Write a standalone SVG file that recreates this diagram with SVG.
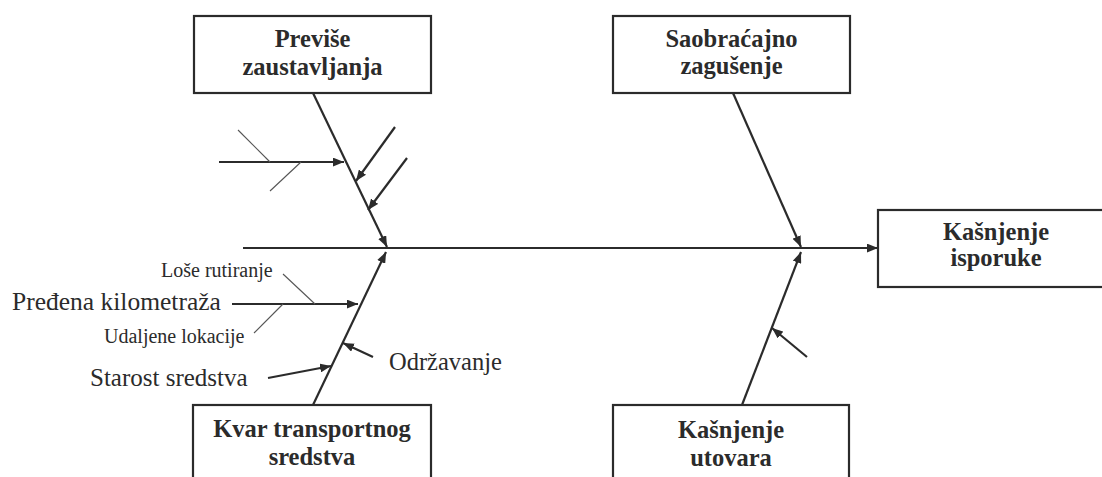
<svg xmlns="http://www.w3.org/2000/svg" width="1102" height="477" viewBox="0 0 1102 477">
  <style>
    .box { fill: #ffffff; stroke: #2b2b2b; stroke-width: 2.2; }
    .bone { stroke: #2b2b2b; stroke-width: 2.2; fill: none; }
    .thin { stroke: #555555; stroke-width: 1.1; fill: none; }
    .title { font-family: "Liberation Serif", "Times New Roman", serif; font-weight: bold; font-size: 24.5px; fill: #2b2b2b; text-anchor: middle; }
    .lbl { font-family: "Liberation Serif", "Times New Roman", serif; fill: #2b2b2b; }
  </style>
  <defs>
    <marker id="arr" viewBox="0 0 10 8" refX="10" refY="4" markerWidth="11" markerHeight="9" markerUnits="userSpaceOnUse" orient="auto">
      <path d="M0,0 L10,4 L0,8 z" fill="#2b2b2b"/>
    </marker>
  </defs>

  <rect width="1102" height="477" fill="#ffffff"/>

  <!-- connectors: spine, main bones and sub-causes -->
  <g id="connectors">
    <line class="bone" x1="243" y1="248" x2="878" y2="248" marker-end="url(#arr)"/>

    <line class="bone" x1="313" y1="93" x2="387" y2="247" marker-end="url(#arr)"/>
    <line class="bone" x1="733" y1="93" x2="801" y2="247" marker-end="url(#arr)"/>
    <line class="bone" x1="313" y1="405" x2="386" y2="252" marker-end="url(#arr)"/>
    <line class="bone" x1="742" y1="405" x2="801" y2="252" marker-end="url(#arr)"/>

    <!-- upper-left causes -->
    <line class="bone" x1="219" y1="162" x2="344" y2="162" marker-end="url(#arr)"/>
    <line class="thin" x1="238" y1="130" x2="270" y2="162"/>
    <line class="thin" x1="301" y1="162" x2="270" y2="191"/>
    <line class="bone" x1="395" y1="127" x2="356" y2="181" marker-end="url(#arr)"/>
    <line class="bone" x1="407" y1="158" x2="368" y2="210" marker-end="url(#arr)"/>

    <!-- lower-left causes -->
    <line class="bone" x1="232" y1="304" x2="358" y2="304" marker-end="url(#arr)"/>
    <line class="thin" x1="283" y1="274" x2="315" y2="304"/>
    <line class="thin" x1="283" y1="304" x2="254" y2="333"/>
    <line class="bone" x1="373" y1="357" x2="343" y2="343" marker-end="url(#arr)"/>
    <line class="bone" x1="268" y1="378" x2="331" y2="366" marker-end="url(#arr)"/>

    <!-- lower-right cause -->
    <line class="bone" x1="807" y1="357" x2="772" y2="328" marker-end="url(#arr)"/>
  </g>

  <g id="node-previse">
    <rect class="box" x="194" y="16" width="237" height="77"/>
    <text class="title" x="312.5" y="47">Previše</text>
    <text class="title" x="312.5" y="75">zaustavljanja</text>
  </g>

  <g id="node-saobracajno">
    <rect class="box" x="613" y="16" width="237" height="77"/>
    <text class="title" x="731.5" y="47">Saobraćajno</text>
    <text class="title" x="731.5" y="74">zagušenje</text>
  </g>

  <g id="node-kasnjenje-isporuke">
    <rect class="box" x="878" y="210" width="236" height="77"/>
    <text class="title" x="996" y="240">Kašnjenje</text>
    <text class="title" x="996" y="266">isporuke</text>
  </g>

  <g id="node-kvar">
    <rect class="box" x="193" y="405" width="238" height="80"/>
    <text class="title" x="312" y="437">Kvar transportnog</text>
    <text class="title" x="312" y="465">sredstva</text>
  </g>

  <g id="node-utovar">
    <rect class="box" x="613" y="405" width="236" height="80"/>
    <text class="title" x="731" y="438">Kašnjenje</text>
    <text class="title" x="731" y="466">utovara</text>
  </g>

  <g id="cause-labels">
    <text class="lbl" x="161" y="277" font-size="20">Loše rutiranje</text>
    <text class="lbl" x="12" y="310" font-size="25.5">Pređena kilometraža</text>
    <text class="lbl" x="104" y="343" font-size="20">Udaljene lokacije</text>
    <text class="lbl" x="389" y="370" font-size="24.5">Održavanje</text>
    <text class="lbl" x="90" y="386" font-size="25">Starost sredstva</text>
  </g>
</svg>
